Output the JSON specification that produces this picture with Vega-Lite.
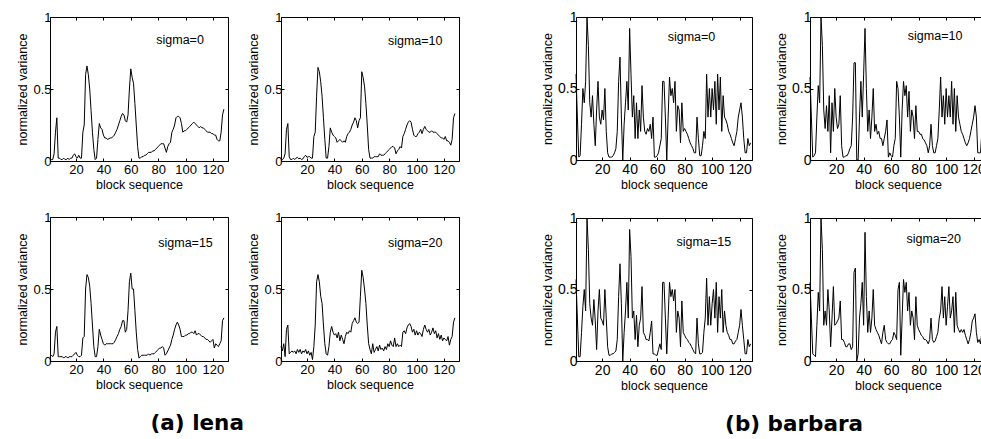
{
"$schema": "https://vega.github.io/schema/vega-lite/v6.json",
"padding": {"left": 16, "top": 9, "right": 0, "bottom": 0},
"background": "white",
"config": {
  "font": "Liberation Sans",
  "view": {"stroke": "black", "strokeWidth": 1},
  "axis": {"grid": false, "domain": false, "tickColor": "black", "tickSize": -3, "labelColor": "black", "titleColor": "black", "labelFont": "Liberation Sans", "titleFont": "Liberation Sans", "labelFontSize": 13, "titleFontSize": 12.5, "titleFontWeight": "normal", "labelPadding": 2, "titlePadding": 3},
  "axisX": {"labelPadding": 5, "titlePadding": 2},
  "text": {"font": "Liberation Sans", "fontSize": 12.5, "color": "black"},
  "title": {"font": "DejaVu Sans", "fontSize": 21.5, "fontWeight": "bold", "color": "black"}
},
"datasets": {
"lena0": [{"x":1,"y":0.01},{"x":2,"y":0.01},{"x":3,"y":0.01},{"x":4,"y":0.05},{"x":5,"y":0.2},{"x":6,"y":0.3},{"x":7,"y":0.02},{"x":8,"y":0.02},{"x":9,"y":0.01},{"x":10,"y":0.01},{"x":11,"y":0.02},{"x":12,"y":0.01},{"x":13,"y":0.01},{"x":14,"y":0.02},{"x":15,"y":0.01},{"x":16,"y":0.02},{"x":17,"y":0.02},{"x":18,"y":0.04},{"x":19,"y":0.05},{"x":20,"y":0.03},{"x":21,"y":0.02},{"x":22,"y":0.04},{"x":23,"y":0.02},{"x":24,"y":0.02},{"x":25,"y":0.2},{"x":26,"y":0.25},{"x":27,"y":0.6},{"x":28,"y":0.66},{"x":29,"y":0.6},{"x":30,"y":0.5},{"x":31,"y":0.35},{"x":32,"y":0.2},{"x":33,"y":0.08},{"x":34,"y":0.01},{"x":35,"y":0.02},{"x":36,"y":0.15},{"x":37,"y":0.26},{"x":38,"y":0.23},{"x":39,"y":0.22},{"x":40,"y":0.18},{"x":41,"y":0.16},{"x":42,"y":0.16},{"x":43,"y":0.15},{"x":44,"y":0.155},{"x":45,"y":0.16},{"x":46,"y":0.16},{"x":47,"y":0.17},{"x":48,"y":0.18},{"x":49,"y":0.2},{"x":50,"y":0.22},{"x":51,"y":0.25},{"x":52,"y":0.28},{"x":53,"y":0.31},{"x":54,"y":0.33},{"x":55,"y":0.32},{"x":56,"y":0.28},{"x":57,"y":0.27},{"x":58,"y":0.32},{"x":59,"y":0.5},{"x":60,"y":0.64},{"x":61,"y":0.58},{"x":62,"y":0.54},{"x":63,"y":0.4},{"x":64,"y":0.25},{"x":65,"y":0.1},{"x":66,"y":0.02},{"x":67,"y":0.02},{"x":68,"y":0.03},{"x":69,"y":0.03},{"x":70,"y":0.04},{"x":71,"y":0.04},{"x":72,"y":0.05},{"x":73,"y":0.06},{"x":74,"y":0.06},{"x":75,"y":0.06},{"x":76,"y":0.07},{"x":77,"y":0.07},{"x":78,"y":0.08},{"x":79,"y":0.09},{"x":80,"y":0.1},{"x":81,"y":0.11},{"x":82,"y":0.12},{"x":83,"y":0.12},{"x":84,"y":0.12},{"x":85,"y":0.09},{"x":86,"y":0.06},{"x":87,"y":0.1},{"x":88,"y":0.12},{"x":89,"y":0.13},{"x":90,"y":0.2},{"x":91,"y":0.22},{"x":92,"y":0.25},{"x":93,"y":0.3},{"x":94,"y":0.31},{"x":95,"y":0.31},{"x":96,"y":0.3},{"x":97,"y":0.26},{"x":98,"y":0.2},{"x":99,"y":0.21},{"x":100,"y":0.21},{"x":101,"y":0.22},{"x":102,"y":0.23},{"x":103,"y":0.24},{"x":104,"y":0.25},{"x":105,"y":0.26},{"x":106,"y":0.27},{"x":107,"y":0.26},{"x":108,"y":0.25},{"x":109,"y":0.24},{"x":110,"y":0.23},{"x":111,"y":0.24},{"x":112,"y":0.23},{"x":113,"y":0.23},{"x":114,"y":0.22},{"x":115,"y":0.21},{"x":116,"y":0.2},{"x":117,"y":0.2},{"x":118,"y":0.2},{"x":119,"y":0.19},{"x":120,"y":0.19},{"x":121,"y":0.18},{"x":122,"y":0.18},{"x":123,"y":0.15},{"x":124,"y":0.14},{"x":125,"y":0.14},{"x":126,"y":0.2},{"x":127,"y":0.32},{"x":128,"y":0.36}],
"lena10": [{"x":1,"y":0.02},{"x":2,"y":0.01},{"x":3,"y":0.02},{"x":4,"y":0.05},{"x":5,"y":0.22},{"x":6,"y":0.26},{"x":7,"y":0.03},{"x":8,"y":0.01},{"x":9,"y":0.01},{"x":10,"y":0.02},{"x":11,"y":0.01},{"x":12,"y":0.02},{"x":13,"y":0.025},{"x":14,"y":0.015},{"x":15,"y":0.02},{"x":16,"y":0.01},{"x":17,"y":0.015},{"x":18,"y":0.03},{"x":19,"y":0.04},{"x":20,"y":0.025},{"x":21,"y":0.03},{"x":22,"y":0.03},{"x":23,"y":0.02},{"x":24,"y":0.02},{"x":25,"y":0.17},{"x":26,"y":0.2},{"x":27,"y":0.45},{"x":28,"y":0.65},{"x":29,"y":0.62},{"x":30,"y":0.55},{"x":31,"y":0.45},{"x":32,"y":0.3},{"x":33,"y":0.15},{"x":34,"y":0.02},{"x":35,"y":0.02},{"x":36,"y":0.1},{"x":37,"y":0.23},{"x":38,"y":0.2},{"x":39,"y":0.18},{"x":40,"y":0.17},{"x":41,"y":0.16},{"x":42,"y":0.13},{"x":43,"y":0.14},{"x":44,"y":0.15},{"x":45,"y":0.14},{"x":46,"y":0.13},{"x":47,"y":0.14},{"x":48,"y":0.13},{"x":49,"y":0.17},{"x":50,"y":0.19},{"x":51,"y":0.2},{"x":52,"y":0.22},{"x":53,"y":0.25},{"x":54,"y":0.27},{"x":55,"y":0.3},{"x":56,"y":0.28},{"x":57,"y":0.23},{"x":58,"y":0.28},{"x":59,"y":0.3},{"x":60,"y":0.62},{"x":61,"y":0.58},{"x":62,"y":0.52},{"x":63,"y":0.4},{"x":64,"y":0.25},{"x":65,"y":0.08},{"x":66,"y":0.02},{"x":67,"y":0.02},{"x":68,"y":0.02},{"x":69,"y":0.03},{"x":70,"y":0.03},{"x":71,"y":0.03},{"x":72,"y":0.03},{"x":73,"y":0.05},{"x":74,"y":0.04},{"x":75,"y":0.04},{"x":76,"y":0.04},{"x":77,"y":0.05},{"x":78,"y":0.06},{"x":79,"y":0.07},{"x":80,"y":0.08},{"x":81,"y":0.09},{"x":82,"y":0.1},{"x":83,"y":0.1},{"x":84,"y":0.09},{"x":85,"y":0.05},{"x":86,"y":0.07},{"x":87,"y":0.08},{"x":88,"y":0.1},{"x":89,"y":0.09},{"x":90,"y":0.17},{"x":91,"y":0.19},{"x":92,"y":0.22},{"x":93,"y":0.25},{"x":94,"y":0.27},{"x":95,"y":0.28},{"x":96,"y":0.27},{"x":97,"y":0.22},{"x":98,"y":0.18},{"x":99,"y":0.17},{"x":100,"y":0.17},{"x":101,"y":0.19},{"x":102,"y":0.2},{"x":103,"y":0.22},{"x":104,"y":0.19},{"x":105,"y":0.22},{"x":106,"y":0.24},{"x":107,"y":0.22},{"x":108,"y":0.21},{"x":109,"y":0.2},{"x":110,"y":0.2},{"x":111,"y":0.21},{"x":112,"y":0.2},{"x":113,"y":0.2},{"x":114,"y":0.2},{"x":115,"y":0.19},{"x":116,"y":0.18},{"x":117,"y":0.17},{"x":118,"y":0.16},{"x":119,"y":0.16},{"x":120,"y":0.15},{"x":121,"y":0.17},{"x":122,"y":0.14},{"x":123,"y":0.14},{"x":124,"y":0.13},{"x":125,"y":0.11},{"x":126,"y":0.15},{"x":127,"y":0.3},{"x":128,"y":0.33}],
"lena15": [{"x":1,"y":0.03},{"x":2,"y":0.04},{"x":3,"y":0.03},{"x":4,"y":0.05},{"x":5,"y":0.2},{"x":6,"y":0.24},{"x":7,"y":0.03},{"x":8,"y":0.03},{"x":9,"y":0.03},{"x":10,"y":0.03},{"x":11,"y":0.02},{"x":12,"y":0.03},{"x":13,"y":0.03},{"x":14,"y":0.02},{"x":15,"y":0.03},{"x":16,"y":0.03},{"x":17,"y":0.03},{"x":18,"y":0.04},{"x":19,"y":0.05},{"x":20,"y":0.06},{"x":21,"y":0.04},{"x":22,"y":0.03},{"x":23,"y":0.03},{"x":24,"y":0.04},{"x":25,"y":0.16},{"x":26,"y":0.17},{"x":27,"y":0.5},{"x":28,"y":0.6},{"x":29,"y":0.58},{"x":30,"y":0.52},{"x":31,"y":0.4},{"x":32,"y":0.25},{"x":33,"y":0.1},{"x":34,"y":0.03},{"x":35,"y":0.03},{"x":36,"y":0.1},{"x":37,"y":0.22},{"x":38,"y":0.18},{"x":39,"y":0.15},{"x":40,"y":0.12},{"x":41,"y":0.11},{"x":42,"y":0.12},{"x":43,"y":0.12},{"x":44,"y":0.12},{"x":45,"y":0.12},{"x":46,"y":0.12},{"x":47,"y":0.12},{"x":48,"y":0.13},{"x":49,"y":0.15},{"x":50,"y":0.17},{"x":51,"y":0.19},{"x":52,"y":0.22},{"x":53,"y":0.24},{"x":54,"y":0.28},{"x":55,"y":0.28},{"x":56,"y":0.2},{"x":57,"y":0.22},{"x":58,"y":0.35},{"x":59,"y":0.55},{"x":60,"y":0.61},{"x":61,"y":0.5},{"x":62,"y":0.5},{"x":63,"y":0.35},{"x":64,"y":0.2},{"x":65,"y":0.08},{"x":66,"y":0.02},{"x":67,"y":0.03},{"x":68,"y":0.04},{"x":69,"y":0.04},{"x":70,"y":0.04},{"x":71,"y":0.04},{"x":72,"y":0.04},{"x":73,"y":0.05},{"x":74,"y":0.04},{"x":75,"y":0.05},{"x":76,"y":0.05},{"x":77,"y":0.05},{"x":78,"y":0.06},{"x":79,"y":0.07},{"x":80,"y":0.08},{"x":81,"y":0.09},{"x":82,"y":0.09},{"x":83,"y":0.1},{"x":84,"y":0.09},{"x":85,"y":0.04},{"x":86,"y":0.05},{"x":87,"y":0.07},{"x":88,"y":0.09},{"x":89,"y":0.11},{"x":90,"y":0.15},{"x":91,"y":0.18},{"x":92,"y":0.22},{"x":93,"y":0.25},{"x":94,"y":0.27},{"x":95,"y":0.25},{"x":96,"y":0.22},{"x":97,"y":0.17},{"x":98,"y":0.17},{"x":99,"y":0.17},{"x":100,"y":0.18},{"x":101,"y":0.18},{"x":102,"y":0.19},{"x":103,"y":0.19},{"x":104,"y":0.2},{"x":105,"y":0.2},{"x":106,"y":0.19},{"x":107,"y":0.21},{"x":108,"y":0.18},{"x":109,"y":0.19},{"x":110,"y":0.19},{"x":111,"y":0.18},{"x":112,"y":0.17},{"x":113,"y":0.17},{"x":114,"y":0.16},{"x":115,"y":0.15},{"x":116,"y":0.15},{"x":117,"y":0.14},{"x":118,"y":0.13},{"x":119,"y":0.14},{"x":120,"y":0.15},{"x":121,"y":0.09},{"x":122,"y":0.12},{"x":123,"y":0.11},{"x":124,"y":0.1},{"x":125,"y":0.12},{"x":126,"y":0.14},{"x":127,"y":0.28},{"x":128,"y":0.3}],
"lena20": [{"x":1,"y":0.1},{"x":2,"y":0.07},{"x":3,"y":0.12},{"x":4,"y":0.03},{"x":5,"y":0.22},{"x":6,"y":0.25},{"x":7,"y":0.05},{"x":8,"y":0.06},{"x":9,"y":0.07},{"x":10,"y":0.06},{"x":11,"y":0.07},{"x":12,"y":0.05},{"x":13,"y":0.08},{"x":14,"y":0.06},{"x":15,"y":0.08},{"x":16,"y":0.05},{"x":17,"y":0.07},{"x":18,"y":0.06},{"x":19,"y":0.08},{"x":20,"y":0.05},{"x":21,"y":0.07},{"x":22,"y":0.04},{"x":23,"y":0.06},{"x":24,"y":0.01},{"x":25,"y":0.1},{"x":26,"y":0.25},{"x":27,"y":0.55},{"x":28,"y":0.6},{"x":29,"y":0.55},{"x":30,"y":0.45},{"x":31,"y":0.4},{"x":32,"y":0.25},{"x":33,"y":0.12},{"x":34,"y":0.05},{"x":35,"y":0.04},{"x":36,"y":0.1},{"x":37,"y":0.2},{"x":38,"y":0.24},{"x":39,"y":0.2},{"x":40,"y":0.18},{"x":41,"y":0.19},{"x":42,"y":0.16},{"x":43,"y":0.2},{"x":44,"y":0.14},{"x":45,"y":0.18},{"x":46,"y":0.15},{"x":47,"y":0.12},{"x":48,"y":0.17},{"x":49,"y":0.2},{"x":50,"y":0.19},{"x":51,"y":0.21},{"x":52,"y":0.2},{"x":53,"y":0.26},{"x":54,"y":0.28},{"x":55,"y":0.3},{"x":56,"y":0.27},{"x":57,"y":0.26},{"x":58,"y":0.27},{"x":59,"y":0.45},{"x":60,"y":0.63},{"x":61,"y":0.58},{"x":62,"y":0.5},{"x":63,"y":0.4},{"x":64,"y":0.25},{"x":65,"y":0.12},{"x":66,"y":0.08},{"x":67,"y":0.05},{"x":68,"y":0.12},{"x":69,"y":0.06},{"x":70,"y":0.08},{"x":71,"y":0.1},{"x":72,"y":0.07},{"x":73,"y":0.11},{"x":74,"y":0.08},{"x":75,"y":0.09},{"x":76,"y":0.07},{"x":77,"y":0.1},{"x":78,"y":0.08},{"x":79,"y":0.12},{"x":80,"y":0.1},{"x":81,"y":0.14},{"x":82,"y":0.11},{"x":83,"y":0.1},{"x":84,"y":0.16},{"x":85,"y":0.1},{"x":86,"y":0.12},{"x":87,"y":0.1},{"x":88,"y":0.11},{"x":89,"y":0.1},{"x":90,"y":0.2},{"x":91,"y":0.21},{"x":92,"y":0.19},{"x":93,"y":0.23},{"x":94,"y":0.25},{"x":95,"y":0.26},{"x":96,"y":0.24},{"x":97,"y":0.2},{"x":98,"y":0.22},{"x":99,"y":0.18},{"x":100,"y":0.21},{"x":101,"y":0.18},{"x":102,"y":0.2},{"x":103,"y":0.19},{"x":104,"y":0.17},{"x":105,"y":0.22},{"x":106,"y":0.25},{"x":107,"y":0.22},{"x":108,"y":0.2},{"x":109,"y":0.22},{"x":110,"y":0.18},{"x":111,"y":0.2},{"x":112,"y":0.23},{"x":113,"y":0.19},{"x":114,"y":0.21},{"x":115,"y":0.16},{"x":116,"y":0.19},{"x":117,"y":0.15},{"x":118,"y":0.18},{"x":119,"y":0.14},{"x":120,"y":0.16},{"x":121,"y":0.15},{"x":122,"y":0.14},{"x":123,"y":0.17},{"x":124,"y":0.11},{"x":125,"y":0.15},{"x":126,"y":0.17},{"x":127,"y":0.27},{"x":128,"y":0.3}],
"barb0": [{"x":1,"y":0.6},{"x":2,"y":0.3},{"x":3,"y":0.02},{"x":4,"y":0.03},{"x":5,"y":0.25},{"x":6,"y":0.5},{"x":7,"y":0.4},{"x":8,"y":0.55},{"x":9,"y":1},{"x":10,"y":0.8},{"x":11,"y":0.4},{"x":12,"y":0.3},{"x":13,"y":0.45},{"x":14,"y":0.25},{"x":15,"y":0.1},{"x":16,"y":0.35},{"x":17,"y":0.55},{"x":18,"y":0.3},{"x":19,"y":0.25},{"x":20,"y":0.35},{"x":21,"y":0.28},{"x":22,"y":0.5},{"x":23,"y":0.2},{"x":24,"y":0.05},{"x":25,"y":0.02},{"x":26,"y":0.02},{"x":27,"y":0.02},{"x":28,"y":0.03},{"x":29,"y":0.05},{"x":30,"y":0.08},{"x":31,"y":0.2},{"x":32,"y":0.55},{"x":33,"y":0.72},{"x":34,"y":0.3},{"x":35,"y":0},{"x":36,"y":0.25},{"x":37,"y":0.4},{"x":38,"y":0.55},{"x":39,"y":0.35},{"x":40,"y":0.92},{"x":41,"y":0.6},{"x":42,"y":0.3},{"x":43,"y":0.45},{"x":44,"y":0.15},{"x":45,"y":0.4},{"x":46,"y":0.15},{"x":47,"y":0.35},{"x":48,"y":0.2},{"x":49,"y":0.52},{"x":50,"y":0.3},{"x":51,"y":0.2},{"x":52,"y":0.18},{"x":53,"y":0.22},{"x":54,"y":0.2},{"x":55,"y":0.25},{"x":56,"y":0.15},{"x":57,"y":0.3},{"x":58,"y":0.02},{"x":59,"y":0.02},{"x":60,"y":0.03},{"x":61,"y":0.05},{"x":62,"y":0.1},{"x":63,"y":0.15},{"x":64,"y":0.55},{"x":65,"y":0.55},{"x":66,"y":0.3},{"x":67,"y":0},{"x":68,"y":0.3},{"x":69,"y":0.58},{"x":70,"y":0.45},{"x":71,"y":0.5},{"x":72,"y":0.4},{"x":73,"y":0.55},{"x":74,"y":0.2},{"x":75,"y":0.38},{"x":76,"y":0.35},{"x":77,"y":0.12},{"x":78,"y":0.4},{"x":79,"y":0.2},{"x":80,"y":0.22},{"x":81,"y":0.2},{"x":82,"y":0.18},{"x":83,"y":0.15},{"x":84,"y":0.12},{"x":85,"y":0.1},{"x":86,"y":0.08},{"x":87,"y":0.05},{"x":88,"y":0.05},{"x":89,"y":0.3},{"x":90,"y":0.15},{"x":91,"y":0.03},{"x":92,"y":0.03},{"x":93,"y":0.1},{"x":94,"y":0.2},{"x":95,"y":0.15},{"x":96,"y":0.6},{"x":97,"y":0.3},{"x":98,"y":0.5},{"x":99,"y":0.3},{"x":100,"y":0.5},{"x":101,"y":0.35},{"x":102,"y":0.55},{"x":103,"y":0.25},{"x":104,"y":0.6},{"x":105,"y":0.35},{"x":106,"y":0.58},{"x":107,"y":0.2},{"x":108,"y":0.45},{"x":109,"y":0.3},{"x":110,"y":0.28},{"x":111,"y":0.25},{"x":112,"y":0.2},{"x":113,"y":0.18},{"x":114,"y":0.15},{"x":115,"y":0.12},{"x":116,"y":0.1},{"x":117,"y":0.15},{"x":118,"y":0.2},{"x":119,"y":0.3},{"x":120,"y":0.35},{"x":121,"y":0.4},{"x":122,"y":0.3},{"x":123,"y":0.15},{"x":124,"y":0.05},{"x":125,"y":0.05},{"x":126,"y":0.15},{"x":127,"y":0.1},{"x":128,"y":0.12}],
"barb10": [{"x":1,"y":0.58},{"x":2,"y":0.3},{"x":3,"y":0.02},{"x":4,"y":0.03},{"x":5,"y":0.05},{"x":6,"y":0.3},{"x":7,"y":0.52},{"x":8,"y":0.4},{"x":9,"y":1},{"x":10,"y":0.8},{"x":11,"y":0.35},{"x":12,"y":0.22},{"x":13,"y":0.38},{"x":14,"y":0.2},{"x":15,"y":0.45},{"x":16,"y":0.05},{"x":17,"y":0.4},{"x":18,"y":0.2},{"x":19,"y":0.5},{"x":20,"y":0.3},{"x":21,"y":0.22},{"x":22,"y":0.25},{"x":23,"y":0.45},{"x":24,"y":0.1},{"x":25,"y":0.02},{"x":26,"y":0.02},{"x":27,"y":0.03},{"x":28,"y":0.03},{"x":29,"y":0.05},{"x":30,"y":0.08},{"x":31,"y":0.1},{"x":32,"y":0.3},{"x":33,"y":0.68},{"x":34,"y":0.68},{"x":35,"y":0},{"x":36,"y":0},{"x":37,"y":0.3},{"x":38,"y":0.55},{"x":39,"y":0.3},{"x":40,"y":0.6},{"x":41,"y":0.92},{"x":42,"y":0.5},{"x":43,"y":0.2},{"x":44,"y":0.35},{"x":45,"y":0.15},{"x":46,"y":0.3},{"x":47,"y":0.5},{"x":48,"y":0.2},{"x":49,"y":0.25},{"x":50,"y":0.18},{"x":51,"y":0.2},{"x":52,"y":0.15},{"x":53,"y":0.15},{"x":54,"y":0.1},{"x":55,"y":0.15},{"x":56,"y":0.2},{"x":57,"y":0.28},{"x":58,"y":0.02},{"x":59,"y":0.05},{"x":60,"y":0.03},{"x":61,"y":0.02},{"x":62,"y":0.1},{"x":63,"y":0.15},{"x":64,"y":0.55},{"x":65,"y":0.5},{"x":66,"y":0.3},{"x":67,"y":0.02},{"x":68,"y":0.35},{"x":69,"y":0.55},{"x":70,"y":0.45},{"x":71,"y":0.52},{"x":72,"y":0.3},{"x":73,"y":0.48},{"x":74,"y":0.2},{"x":75,"y":0.35},{"x":76,"y":0.3},{"x":77,"y":0.15},{"x":78,"y":0.38},{"x":79,"y":0.2},{"x":80,"y":0.2},{"x":81,"y":0.18},{"x":82,"y":0.18},{"x":83,"y":0.15},{"x":84,"y":0.14},{"x":85,"y":0.12},{"x":86,"y":0.1},{"x":87,"y":0.05},{"x":88,"y":0.1},{"x":89,"y":0.25},{"x":90,"y":0.1},{"x":91,"y":0.05},{"x":92,"y":0.05},{"x":93,"y":0.1},{"x":94,"y":0.15},{"x":95,"y":0.35},{"x":96,"y":0.58},{"x":97,"y":0.3},{"x":98,"y":0.45},{"x":99,"y":0.25},{"x":100,"y":0.5},{"x":101,"y":0.3},{"x":102,"y":0.45},{"x":103,"y":0.3},{"x":104,"y":0.55},{"x":105,"y":0.25},{"x":106,"y":0.5},{"x":107,"y":0.2},{"x":108,"y":0.45},{"x":109,"y":0.3},{"x":110,"y":0.25},{"x":111,"y":0.2},{"x":112,"y":0.18},{"x":113,"y":0.15},{"x":114,"y":0.12},{"x":115,"y":0.1},{"x":116,"y":0.12},{"x":117,"y":0.15},{"x":118,"y":0.2},{"x":119,"y":0.25},{"x":120,"y":0.3},{"x":121,"y":0.38},{"x":122,"y":0.3},{"x":123,"y":0.05},{"x":124,"y":0.05},{"x":125,"y":0.05},{"x":126,"y":0.2},{"x":127,"y":0.1},{"x":128,"y":0.12}],
"barb15": [{"x":1,"y":0.57},{"x":2,"y":0.3},{"x":3,"y":0.03},{"x":4,"y":0.03},{"x":5,"y":0.2},{"x":6,"y":0.38},{"x":7,"y":0.5},{"x":8,"y":0.35},{"x":9,"y":1},{"x":10,"y":0.78},{"x":11,"y":0.4},{"x":12,"y":0.3},{"x":13,"y":0.25},{"x":14,"y":0.43},{"x":15,"y":0.28},{"x":16,"y":0.08},{"x":17,"y":0.35},{"x":18,"y":0.5},{"x":19,"y":0.3},{"x":20,"y":0.28},{"x":21,"y":0.25},{"x":22,"y":0.5},{"x":23,"y":0.3},{"x":24,"y":0.1},{"x":25,"y":0.04},{"x":26,"y":0.04},{"x":27,"y":0.05},{"x":28,"y":0.05},{"x":29,"y":0.06},{"x":30,"y":0.07},{"x":31,"y":0.15},{"x":32,"y":0.45},{"x":33,"y":0.68},{"x":34,"y":0.4},{"x":35,"y":0},{"x":36,"y":0.2},{"x":37,"y":0.35},{"x":38,"y":0.55},{"x":39,"y":0.3},{"x":40,"y":0.92},{"x":41,"y":0.73},{"x":42,"y":0.3},{"x":43,"y":0.35},{"x":44,"y":0.15},{"x":45,"y":0.32},{"x":46,"y":0.1},{"x":47,"y":0.25},{"x":48,"y":0.3},{"x":49,"y":0.52},{"x":50,"y":0.2},{"x":51,"y":0.18},{"x":52,"y":0.15},{"x":53,"y":0.15},{"x":54,"y":0.14},{"x":55,"y":0.2},{"x":56,"y":0.28},{"x":57,"y":0.05},{"x":58,"y":0.05},{"x":59,"y":0.04},{"x":60,"y":0.04},{"x":61,"y":0.08},{"x":62,"y":0.12},{"x":63,"y":0.08},{"x":64,"y":0.55},{"x":65,"y":0.55},{"x":66,"y":0.3},{"x":67,"y":0.05},{"x":68,"y":0.3},{"x":69,"y":0.55},{"x":70,"y":0.45},{"x":71,"y":0.5},{"x":72,"y":0.42},{"x":73,"y":0.5},{"x":74,"y":0.2},{"x":75,"y":0.35},{"x":76,"y":0.3},{"x":77,"y":0.1},{"x":78,"y":0.42},{"x":79,"y":0.2},{"x":80,"y":0.18},{"x":81,"y":0.16},{"x":82,"y":0.15},{"x":83,"y":0.13},{"x":84,"y":0.12},{"x":85,"y":0.1},{"x":86,"y":0.08},{"x":87,"y":0.06},{"x":88,"y":0.05},{"x":89,"y":0.3},{"x":90,"y":0.12},{"x":91,"y":0.05},{"x":92,"y":0.05},{"x":93,"y":0.06},{"x":94,"y":0.2},{"x":95,"y":0.3},{"x":96,"y":0.58},{"x":97,"y":0.25},{"x":98,"y":0.45},{"x":99,"y":0.25},{"x":100,"y":0.4},{"x":101,"y":0.5},{"x":102,"y":0.3},{"x":103,"y":0.55},{"x":104,"y":0.2},{"x":105,"y":0.45},{"x":106,"y":0.3},{"x":107,"y":0.5},{"x":108,"y":0.2},{"x":109,"y":0.35},{"x":110,"y":0.25},{"x":111,"y":0.2},{"x":112,"y":0.18},{"x":113,"y":0.15},{"x":114,"y":0.15},{"x":115,"y":0.12},{"x":116,"y":0.12},{"x":117,"y":0.14},{"x":118,"y":0.15},{"x":119,"y":0.2},{"x":120,"y":0.25},{"x":121,"y":0.36},{"x":122,"y":0.25},{"x":123,"y":0.15},{"x":124,"y":0.05},{"x":125,"y":0.05},{"x":126,"y":0.15},{"x":127,"y":0.1},{"x":128,"y":0.12}],
"barb20": [{"x":1,"y":0.55},{"x":2,"y":0.3},{"x":3,"y":0.05},{"x":4,"y":0.04},{"x":5,"y":0.03},{"x":6,"y":0.25},{"x":7,"y":0.48},{"x":8,"y":0.35},{"x":9,"y":1},{"x":10,"y":0.78},{"x":11,"y":0.25},{"x":12,"y":0.35},{"x":13,"y":0.25},{"x":14,"y":0.5},{"x":15,"y":0.35},{"x":16,"y":0.1},{"x":17,"y":0.3},{"x":18,"y":0.52},{"x":19,"y":0.25},{"x":20,"y":0.26},{"x":21,"y":0.28},{"x":22,"y":0.3},{"x":23,"y":0.42},{"x":24,"y":0.15},{"x":25,"y":0.15},{"x":26,"y":0.13},{"x":27,"y":0.1},{"x":28,"y":0.1},{"x":29,"y":0.12},{"x":30,"y":0.12},{"x":31,"y":0.08},{"x":32,"y":0.1},{"x":33,"y":0.62},{"x":34,"y":0.65},{"x":35,"y":0},{"x":36,"y":0.05},{"x":37,"y":0.3},{"x":38,"y":0.4},{"x":39,"y":0.55},{"x":40,"y":0.25},{"x":41,"y":0.9},{"x":42,"y":0.45},{"x":43,"y":0.2},{"x":44,"y":0.35},{"x":45,"y":0.2},{"x":46,"y":0.3},{"x":47,"y":0.5},{"x":48,"y":0.25},{"x":49,"y":0.22},{"x":50,"y":0.2},{"x":51,"y":0.18},{"x":52,"y":0.15},{"x":53,"y":0.12},{"x":54,"y":0.2},{"x":55,"y":0.25},{"x":56,"y":0.15},{"x":57,"y":0.13},{"x":58,"y":0.12},{"x":59,"y":0.12},{"x":60,"y":0.14},{"x":61,"y":0.15},{"x":62,"y":0.2},{"x":63,"y":0.18},{"x":64,"y":0.15},{"x":65,"y":0.5},{"x":66,"y":0.55},{"x":67,"y":0.04},{"x":68,"y":0.3},{"x":69,"y":0.57},{"x":70,"y":0.48},{"x":71,"y":0.55},{"x":72,"y":0.35},{"x":73,"y":0.48},{"x":74,"y":0.25},{"x":75,"y":0.35},{"x":76,"y":0.3},{"x":77,"y":0.15},{"x":78,"y":0.45},{"x":79,"y":0.25},{"x":80,"y":0.22},{"x":81,"y":0.2},{"x":82,"y":0.18},{"x":83,"y":0.17},{"x":84,"y":0.15},{"x":85,"y":0.15},{"x":86,"y":0.14},{"x":87,"y":0.12},{"x":88,"y":0.15},{"x":89,"y":0.3},{"x":90,"y":0.15},{"x":91,"y":0.13},{"x":92,"y":0.14},{"x":93,"y":0.17},{"x":94,"y":0.2},{"x":95,"y":0.3},{"x":96,"y":0.35},{"x":97,"y":0.52},{"x":98,"y":0.3},{"x":99,"y":0.45},{"x":100,"y":0.25},{"x":101,"y":0.38},{"x":102,"y":0.52},{"x":103,"y":0.3},{"x":104,"y":0.35},{"x":105,"y":0.45},{"x":106,"y":0.2},{"x":107,"y":0.48},{"x":108,"y":0.25},{"x":109,"y":0.22},{"x":110,"y":0.2},{"x":111,"y":0.22},{"x":112,"y":0.2},{"x":113,"y":0.22},{"x":114,"y":0.18},{"x":115,"y":0.15},{"x":116,"y":0.12},{"x":117,"y":0.15},{"x":118,"y":0.2},{"x":119,"y":0.28},{"x":120,"y":0.3},{"x":121,"y":0.33},{"x":122,"y":0.2},{"x":123,"y":0.13},{"x":124,"y":0.15},{"x":125,"y":0.12},{"x":126,"y":0.2},{"x":127,"y":0.15},{"x":128,"y":0.12}]
},
"spacing": 81,
"hconcat": [
 {"spacing": 19,
  "title": {"text": "(a) lena", "orient": "bottom", "anchor": "middle", "dx": -41, "offset": 22},
  "vconcat": [
   {"spacing": 18, "hconcat": [
    {"width": 178, "height": 144, "resolve": {"axis": {"x": "independent", "y": "independent"}}, "layer": [
     {"data": {"name": "lena0"}, "mark": {"type": "line", "color": "black", "strokeWidth": 1},
      "encoding": {"x": {"field": "x", "type": "quantitative", "scale": {"domain": [1, 131], "nice": false, "zero": false}, "axis": {"values": [20, 40, 60, 80, 100, 120], "title": "block sequence"}},
                   "y": {"field": "y", "type": "quantitative", "scale": {"domain": [0, 1], "nice": false}, "axis": {"values": [0, 0.5, 1], "format": "~g", "title": "normalized variance"}}}},
     {"data": {"values": [{"label": "sigma=0"}]}, "mark": {"type": "text", "align": "center", "baseline": "middle"},
      "encoding": {"x": {"datum": 96, "type": "quantitative", "axis": {"orient": "top", "values": [20, 40, 60, 80, 100, 120], "labels": false, "title": null}},
                   "y": {"datum": 0.84, "type": "quantitative", "axis": {"orient": "right", "values": [0, 0.5, 1], "labels": false, "title": null}},
                   "text": {"field": "label"}}}
    ]},
    {"width": 178, "height": 144, "resolve": {"axis": {"x": "independent", "y": "independent"}}, "layer": [
     {"data": {"name": "lena10"}, "mark": {"type": "line", "color": "black", "strokeWidth": 1},
      "encoding": {"x": {"field": "x", "type": "quantitative", "scale": {"domain": [1, 131], "nice": false, "zero": false}, "axis": {"values": [20, 40, 60, 80, 100, 120], "title": "block sequence"}},
                   "y": {"field": "y", "type": "quantitative", "scale": {"domain": [0, 1], "nice": false}, "axis": {"values": [0, 0.5, 1], "format": "~g", "title": "normalized variance"}}}},
     {"data": {"values": [{"label": "sigma=10"}]}, "mark": {"type": "text", "align": "center", "baseline": "middle"},
      "encoding": {"x": {"datum": 99, "type": "quantitative", "axis": {"orient": "top", "values": [20, 40, 60, 80, 100, 120], "labels": false, "title": null}},
                   "y": {"datum": 0.83, "type": "quantitative", "axis": {"orient": "right", "values": [0, 0.5, 1], "labels": false, "title": null}},
                   "text": {"field": "label"}}}
    ]}
   ]},
   {"spacing": 18, "hconcat": [
    {"width": 178, "height": 144, "resolve": {"axis": {"x": "independent", "y": "independent"}}, "layer": [
     {"data": {"name": "lena15"}, "mark": {"type": "line", "color": "black", "strokeWidth": 1},
      "encoding": {"x": {"field": "x", "type": "quantitative", "scale": {"domain": [1, 131], "nice": false, "zero": false}, "axis": {"values": [20, 40, 60, 80, 100, 120], "title": "block sequence"}},
                   "y": {"field": "y", "type": "quantitative", "scale": {"domain": [0, 1], "nice": false}, "axis": {"values": [0, 0.5, 1], "format": "~g", "title": "normalized variance"}}}},
     {"data": {"values": [{"label": "sigma=15"}]}, "mark": {"type": "text", "align": "center", "baseline": "middle"},
      "encoding": {"x": {"datum": 100, "type": "quantitative", "axis": {"orient": "top", "values": [20, 40, 60, 80, 100, 120], "labels": false, "title": null}},
                   "y": {"datum": 0.82, "type": "quantitative", "axis": {"orient": "right", "values": [0, 0.5, 1], "labels": false, "title": null}},
                   "text": {"field": "label"}}}
    ]},
    {"width": 178, "height": 144, "resolve": {"axis": {"x": "independent", "y": "independent"}}, "layer": [
     {"data": {"name": "lena20"}, "mark": {"type": "line", "color": "black", "strokeWidth": 1},
      "encoding": {"x": {"field": "x", "type": "quantitative", "scale": {"domain": [1, 131], "nice": false, "zero": false}, "axis": {"values": [20, 40, 60, 80, 100, 120], "title": "block sequence"}},
                   "y": {"field": "y", "type": "quantitative", "scale": {"domain": [0, 1], "nice": false}, "axis": {"values": [0, 0.5, 1], "format": "~g", "title": "normalized variance"}}}},
     {"data": {"values": [{"label": "sigma=20"}]}, "mark": {"type": "text", "align": "center", "baseline": "middle"},
      "encoding": {"x": {"datum": 99, "type": "quantitative", "axis": {"orient": "top", "values": [20, 40, 60, 80, 100, 120], "labels": false, "title": null}},
                   "y": {"datum": 0.82, "type": "quantitative", "axis": {"orient": "right", "values": [0, 0.5, 1], "labels": false, "title": null}},
                   "text": {"field": "label"}}}
    ]}
   ]}
  ]},
 {"spacing": 19,
  "title": {"text": "(b) barbara", "orient": "bottom", "anchor": "middle", "dx": 30, "offset": 22},
  "vconcat": [
   {"spacing": 21, "hconcat": [
    {"width": 176, "height": 143, "resolve": {"axis": {"x": "independent", "y": "independent"}}, "layer": [
     {"data": {"name": "barb0"}, "mark": {"type": "line", "color": "black", "strokeWidth": 1},
      "encoding": {"x": {"field": "x", "type": "quantitative", "scale": {"domain": [1, 129], "nice": false, "zero": false}, "axis": {"values": [20, 40, 60, 80, 100, 120], "title": "block sequence", "labelFontSize": 14}},
                   "y": {"field": "y", "type": "quantitative", "scale": {"domain": [0, 1], "nice": false}, "axis": {"values": [0, 0.5, 1], "format": "~g", "title": "normalized variance", "labelFontSize": 14}}}},
     {"data": {"values": [{"label": "sigma=0"}]}, "mark": {"type": "text", "align": "center", "baseline": "middle"},
      "encoding": {"x": {"datum": 85, "type": "quantitative", "axis": {"orient": "top", "values": [20, 40, 60, 80, 100, 120], "labels": false, "title": null}},
                   "y": {"datum": 0.86, "type": "quantitative", "axis": {"orient": "right", "values": [0, 0.5, 1], "labels": false, "title": null}},
                   "text": {"field": "label"}}}
    ]},
    {"width": 176, "height": 143, "resolve": {"axis": {"x": "independent", "y": "independent"}}, "layer": [
     {"data": {"name": "barb10"}, "mark": {"type": "line", "color": "black", "strokeWidth": 1},
      "encoding": {"x": {"field": "x", "type": "quantitative", "scale": {"domain": [1, 129], "nice": false, "zero": false}, "axis": {"values": [20, 40, 60, 80, 100, 120], "title": "block sequence", "labelFontSize": 14}},
                   "y": {"field": "y", "type": "quantitative", "scale": {"domain": [0, 1], "nice": false}, "axis": {"values": [0, 0.5, 1], "format": "~g", "title": "normalized variance", "labelFontSize": 14}}}},
     {"data": {"values": [{"label": "sigma=10"}]}, "mark": {"type": "text", "align": "center", "baseline": "middle"},
      "encoding": {"x": {"datum": 92, "type": "quantitative", "axis": {"orient": "top", "values": [20, 40, 60, 80, 100, 120], "labels": false, "title": null}},
                   "y": {"datum": 0.87, "type": "quantitative", "axis": {"orient": "right", "values": [0, 0.5, 1], "labels": false, "title": null}},
                   "text": {"field": "label"}}}
    ]}
   ]},
   {"spacing": 21, "hconcat": [
    {"width": 176, "height": 143, "resolve": {"axis": {"x": "independent", "y": "independent"}}, "layer": [
     {"data": {"name": "barb15"}, "mark": {"type": "line", "color": "black", "strokeWidth": 1},
      "encoding": {"x": {"field": "x", "type": "quantitative", "scale": {"domain": [1, 129], "nice": false, "zero": false}, "axis": {"values": [20, 40, 60, 80, 100, 120], "title": "block sequence", "labelFontSize": 14}},
                   "y": {"field": "y", "type": "quantitative", "scale": {"domain": [0, 1], "nice": false}, "axis": {"values": [0, 0.5, 1], "format": "~g", "title": "normalized variance", "labelFontSize": 14}}}},
     {"data": {"values": [{"label": "sigma=15"}]}, "mark": {"type": "text", "align": "center", "baseline": "middle"},
      "encoding": {"x": {"datum": 94, "type": "quantitative", "axis": {"orient": "top", "values": [20, 40, 60, 80, 100, 120], "labels": false, "title": null}},
                   "y": {"datum": 0.83, "type": "quantitative", "axis": {"orient": "right", "values": [0, 0.5, 1], "labels": false, "title": null}},
                   "text": {"field": "label"}}}
    ]},
    {"width": 176, "height": 143, "resolve": {"axis": {"x": "independent", "y": "independent"}}, "layer": [
     {"data": {"name": "barb20"}, "mark": {"type": "line", "color": "black", "strokeWidth": 1},
      "encoding": {"x": {"field": "x", "type": "quantitative", "scale": {"domain": [1, 129], "nice": false, "zero": false}, "axis": {"values": [20, 40, 60, 80, 100, 120], "title": "block sequence", "labelFontSize": 14}},
                   "y": {"field": "y", "type": "quantitative", "scale": {"domain": [0, 1], "nice": false}, "axis": {"values": [0, 0.5, 1], "format": "~g", "title": "normalized variance", "labelFontSize": 14}}}},
     {"data": {"values": [{"label": "sigma=20"}]}, "mark": {"type": "text", "align": "center", "baseline": "middle"},
      "encoding": {"x": {"datum": 91, "type": "quantitative", "axis": {"orient": "top", "values": [20, 40, 60, 80, 100, 120], "labels": false, "title": null}},
                   "y": {"datum": 0.85, "type": "quantitative", "axis": {"orient": "right", "values": [0, 0.5, 1], "labels": false, "title": null}},
                   "text": {"field": "label"}}}
    ]}
   ]}
  ]}
]
}
